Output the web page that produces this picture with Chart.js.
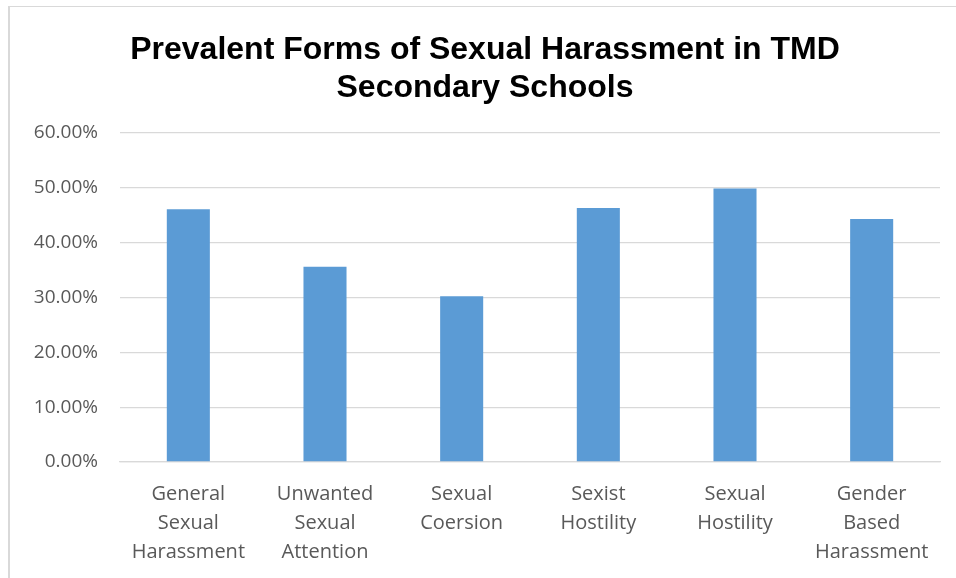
<!DOCTYPE html>
<html>
<head>
<meta charset="utf-8">
<script src="https://cdn.jsdelivr.net/npm/chart.js@4"></script>
<style>
  html, body { margin: 0; padding: 0; background: #fff; }
  .frame {
    position: absolute; left: 8px; top: 6px;
    width: 946px; height: 571px;
    border-left: 2px solid #d9d9d9;
    border-top: 1px solid #d9d9d9;
  }
</style>
</head>
<body>
<div class="frame"><canvas id="harassChart" width="946" height="571"></canvas></div>
<script>
const categories = [
  ['General', 'Sexual', 'Harassment'],
  ['Unwanted', 'Sexual', 'Attention'],
  ['Sexual', 'Coersion'],
  ['Sexist', 'Hostility'],
  ['Sexual', 'Hostility'],
  ['Gender', 'Based', 'Harassment']
];
const prevalence = [46.1, 35.6, 30.25, 46.3, 49.9, 44.3];
const yTicks = [0, 10, 20, 30, 40, 50, 60];

const labelGray = '#595959';
const gridGray = '#d9d9d9';

const ctx = document.getElementById('harassChart').getContext('2d');
new Chart(ctx, {
  type: 'bar',
  data: {
    labels: categories,
    datasets: [{
      data: prevalence,
      backgroundColor: '#5b9bd5',
      categoryPercentage: 1,
      barPercentage: 0.315
    }]
  },
  options: {
    responsive: false,
    animation: false,
    // left padding nudges the title centre right; y axis width is trimmed to match
    layout: { padding: { left: 20, right: 16, top: 0, bottom: 0 } },
    plugins: {
      legend: { display: false },
      tooltip: { enabled: false },
      title: {
        display: true,
        text: ['Prevalent Forms of Sexual Harassment in TMD', 'Secondary Schools'],
        color: '#000',
        font: { family: 'Liberation Sans', weight: 'bold', size: 32, lineHeight: '38px' },
        padding: { top: 24, bottom: 26 }
      }
    },
    scales: {
      x: {
        grid: { display: false },
        border: { color: gridGray, width: 1.3 },
        ticks: {
          color: labelGray,
          font: { family: 'Open Sans', size: 20, lineHeight: '29px' },
          padding: 10,
          maxRotation: 0,
          autoSkip: false
        },
        afterFit: s => { s.height = 116; }
      },
      y: {
        min: 0,
        max: 60,
        afterBuildTicks: s => { s.ticks = yTicks.map(v => ({ value: v })); },
        grid: { color: gridGray, lineWidth: 1.3, drawTicks: false },
        border: { display: false },
        ticks: {
          color: labelGray,
          font: { family: 'Open Sans', size: 19 },
          padding: 22,
          callback: v => v.toFixed(2) + '%'
        },
        afterFit: s => { s.width = 90; }
      }
    }
  }
});
</script>
</body>
</html>
